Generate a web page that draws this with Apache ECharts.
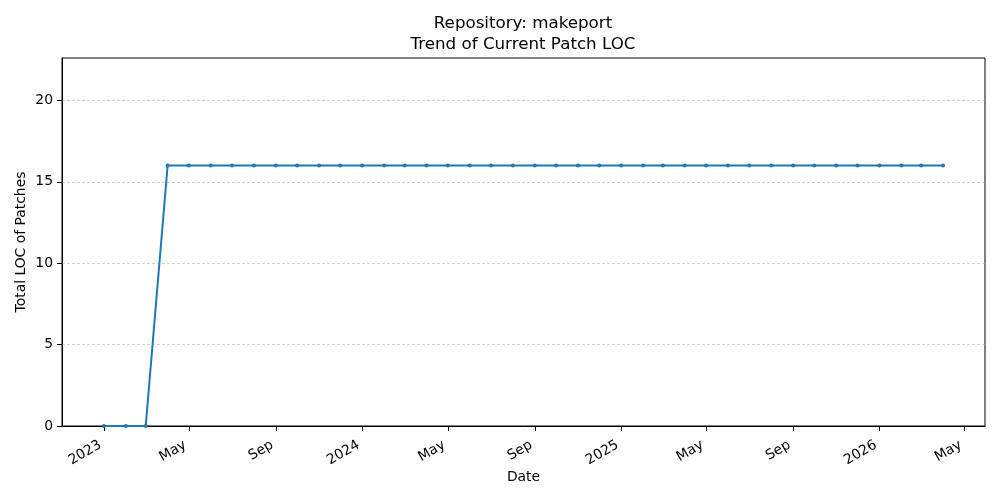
<!DOCTYPE html>
<html>
<head>
<meta charset="utf-8">
<script src="https://cdn.jsdelivr.net/npm/echarts@6/dist/echarts.min.js"></script>
<style>
	html, body { margin: 0; padding: 0; background: #fff; }
	#chart { width: 1000px; height: 500px; }
</style>
</head>
<body>
<div id="chart"></div>
<script>
// 数据：每月一个点
var dates = [
	'2023-01-01', '2023-02-01', '2023-03-01', '2023-04-01', '2023-05-01', '2023-06-01',
	'2023-07-01', '2023-08-01', '2023-09-01', '2023-10-01', '2023-11-01', '2023-12-01',
	'2024-01-01', '2024-02-01', '2024-03-01', '2024-04-01', '2024-05-01', '2024-06-01',
	'2024-07-01', '2024-08-01', '2024-09-01', '2024-10-01', '2024-11-01', '2024-12-01',
	'2025-01-01', '2025-02-01', '2025-03-01', '2025-04-01', '2025-05-01', '2025-06-01',
	'2025-07-01', '2025-08-01', '2025-09-01', '2025-10-01', '2025-11-01', '2025-12-01',
	'2026-01-01', '2026-02-01', '2026-03-01', '2026-04-01'
];
var patchLoc = [
	0, 0, 0, 16, 16, 16, 16, 16, 16, 16, 16, 16,
	16, 16, 16, 16, 16, 16, 16, 16, 16, 16, 16, 16,
	16, 16, 16, 16, 16, 16, 16, 16, 16, 16, 16, 16,
	16, 16, 16, 16
];
// x轴刻度
var tickDates = [
	'2023-01-01', '2023-05-01', '2023-09-01', '2024-01-01', '2024-05-01', '2024-09-01',
	'2025-01-01', '2025-05-01', '2025-09-01', '2026-01-01', '2026-05-01'
];
var yTicks = [0, 5, 10, 15, 20];
var monthNames = ['Jan', 'Feb', 'Mar', 'Apr', 'May', 'Jun', 'Jul', 'Aug', 'Sep', 'Oct', 'Nov', 'Dec'];

// 日期字符串转时间戳（UTC）
function toTime(s) {
	var p = s.split('-');
	return Date.UTC(+p[0], +p[1] - 1, +p[2]);
}

var seriesData = [];
for (var i = 0; i < dates.length; ++i) {
	seriesData.push([toTime(dates[i]), patchLoc[i]]);
}

var tickValues = tickDates.map(toTime);

// matplotlib 默认 5% 边距
var first = seriesData[0][0];
var last = seriesData[seriesData.length - 1][0];
var pad = (last - first) * 0.05;

var myChart = echarts.init(document.getElementById('chart'));

var option = {
	animation: false,
	title: {
		text: 'Repository: makeport\nTrend of Current Patch LOC',
		left: 518,
		top: 8,
		textAlign: 'center',
		textStyle: {
			fontFamily: 'DejaVu Sans',
			fontSize: 16.7,
			fontWeight: 'normal',
			color: '#000',
			lineHeight: 21
		}
	},
	grid: {
		left: 62,
		right: 15,
		top: 58,
		bottom: 74,
		show: true,
		borderColor: '#000',
		borderWidth: 1,
		containLabel: false
	},
	xAxis: {
		type: 'value',
		min: first - pad,
		max: last + pad,
		name: 'Date',
		nameLocation: 'middle',
		nameGap: 44,
		nameMoveOverlap: false,
		nameTextStyle: { fontFamily: 'DejaVu Sans', fontSize: 13.9, color: '#000' },
		axisLine: { show: true, lineStyle: { color: '#000', width: 1 } },
		axisTick: {
			show: true,
			inside: false,
			length: 5,
			customValues: tickValues,
			lineStyle: { color: '#000' }
		},
		axisLabel: {
			rotate: 30,
			margin: 24,
			verticalAlign: 'bottom',
			fontFamily: 'DejaVu Sans',
			fontSize: 13.9,
			color: '#000',
			customValues: tickValues,
			formatter: function(val) {
				var d = new Date(val);
				return d.getUTCMonth() === 0 ? String(d.getUTCFullYear()) : monthNames[d.getUTCMonth()];
			}
		},
		splitLine: { show: false }
	},
	yAxis: {
		type: 'value',
		min: 0,
		max: 22.6,
		name: 'Total LOC of Patches',
		nameLocation: 'middle',
		nameGap: 34,
		nameMoveOverlap: false,
		nameTextStyle: { fontFamily: 'DejaVu Sans', fontSize: 13.9, color: '#000' },
		axisLine: { show: true, lineStyle: { color: '#000', width: 1 } },
		axisTick: {
			show: true,
			inside: false,
			length: 5,
			customValues: yTicks,
			lineStyle: { color: '#000' }
		},
		axisLabel: {
			fontFamily: 'DejaVu Sans',
			fontSize: 13.9,
			color: '#000',
			margin: 9,
			customValues: yTicks
		},
		splitLine: { show: false }
	},
	series: [{
		name: 'Total LOC',
		type: 'line',
		data: seriesData,
		symbol: 'circle',
		symbolSize: 4,
		showAllSymbol: true,
		itemStyle: { color: '#1f77b4' },
		lineStyle: { color: '#1f77b4', width: 2 },
		z: 3,
		// y方向网格线（虚线）
		markLine: {
			silent: true,
			symbol: 'none',
			label: { show: false },
			lineStyle: { color: '#b0b0b0', width: 0.6, type: [3, 2] },
			data: yTicks.slice(1).map(function(v) { return { yAxis: v }; }),
			z: 1
		}
	}]
};

myChart.setOption(option);
</script>
</body>
</html>
